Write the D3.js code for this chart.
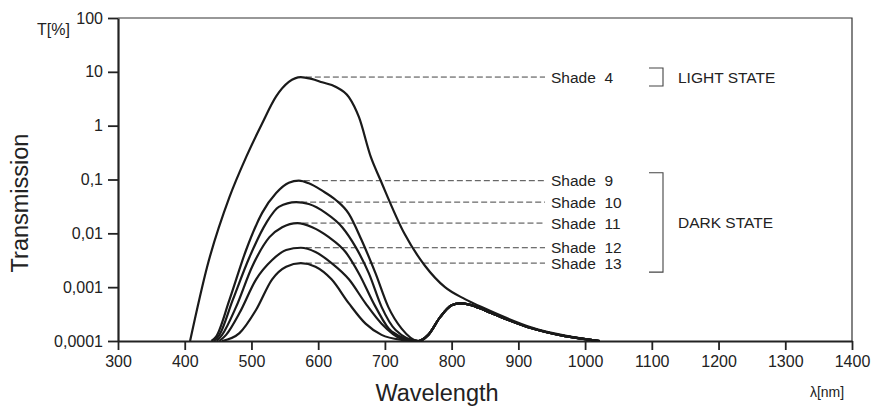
<!DOCTYPE html>
<html>
<head>
<meta charset="utf-8">
<script src="https://cdn.jsdelivr.net/npm/d3@7"></script>
<style>
  body { margin: 0; background: #fff; }
  text { font-family: "Liberation Sans", Arial, sans-serif; fill: #222; }
</style>
</head>
<body>
<script>
// transmission data [wavelength nm, T %]
var shade4 = [[408,0.0001],[434,0.0025],[467,0.047],[492,0.26],[516,1.1],[537,3.5],[556,6.5],[574,8],[590,7.4],[606,6.4],[626,5.3],[646,3.4],[661,1.45],[679,0.26],[693,0.1],[729,0.01],[760,0.0025],[790,0.001],[820,0.0006],[850,0.0004],[880,0.000275],[920,0.000178],[970,0.000126],[1022,0.0001]];
var shade9 = [[440,0.0001],[447,0.00012],[467,0.00058],[492,0.0049],[516,0.024],[537,0.056],[556,0.087],[571,0.095],[586,0.085],[606,0.062],[626,0.042],[646,0.023],[665,0.0075],[686,0.0018],[705,0.00043],[725,0.00017],[750,0.0001]];
var shade10 = [[444,0.0001],[452,0.00013],[472,0.00058],[497,0.0036],[522,0.0155],[541,0.031],[567,0.038],[586,0.035],[611,0.024],[636,0.013],[656,0.0056],[676,0.0018],[695,0.00043],[716,0.00016],[750,0.0001]];
var shade11 = [[448,0.0001],[456,0.00013],[477,0.00043],[501,0.0024],[527,0.0085],[546,0.013],[569,0.0155],[591,0.013],[616,0.0085],[641,0.0045],[661,0.0018],[686,0.00043],[710,0.00015],[750,0.0001]];
var shade12 = [[452,0.0001],[462,0.00013],[482,0.00033],[507,0.0014],[531,0.0032],[552,0.0049],[574,0.0054],[596,0.0045],[620,0.0028],[646,0.0014],[671,0.0005],[695,0.00021],[725,0.00011],[750,0.0001]];
var shade13 = [[456,0.0001],[482,0.00014],[507,0.00038],[531,0.0014],[552,0.0024],[574,0.0028],[596,0.0024],[620,0.0014],[646,0.0005],[671,0.00021],[695,0.00013],[725,0.000105],[750,0.0001]];
// common near-infrared part of the dark shades
var darkTail = [[765,0.00013],[783,0.00028],[800,0.00046],[812,0.0005],[828,0.00047],[850,0.00037],[880,0.00026],[920,0.000172],[970,0.000123],[1022,0.0001]];

var shadeNames = ["Shade  4", "Shade  9", "Shade  10", "Shade  11", "Shade  12", "Shade  13"];
var xTicks = [300, 400, 500, 600, 700, 800, 900, 1000, 1100, 1200, 1300, 1400];
var yTicks = [0.0001, 0.001, 0.01, 0.1, 1, 10, 100];
var yTickLabels = ["0,0001", "0,001", "0,01", "0,1", "1", "10", "100"];

var width = 879, height = 408;

var svg = d3.select("body").append("svg")
    .attr("width", width)
    .attr("height", height);

var x = d3.scaleLinear().domain([300, 1400]).range([118, 852]);
var y = d3.scaleLog().domain([0.0001, 100]).range([341, 18]);

var series = [shade4,
    shade9.concat(darkTail), shade10.concat(darkTail), shade11.concat(darkTail),
    shade12.concat(darkTail), shade13.concat(darkTail)];
var peaks = [shade4, shade9, shade10, shade11, shade12, shade13].map(function(s){
    return s.reduce(function(a, b){ return b[1] > a[1] ? b : a; });
});

//frame top and right
svg.append("path")
    .attr("d", "M" + x(300) + "," + y(100) + "H" + x(1400) + "V" + y(0.0001))
    .attr("fill", "none")
    .attr("stroke", "#333")
    .attr("stroke-width", 1.2);

//axes
var yAxis = svg.append("g")
    .attr("transform", "translate(" + x(300) + ",0)")
    .call(d3.axisLeft(y).tickValues(yTicks)
        .tickFormat(function(d, i){ return yTickLabels[i]; })
        .tickSize(10).tickSizeOuter(0).tickPadding(5));
var xAxis = svg.append("g")
    .attr("transform", "translate(0," + y(0.0001) + ")")
    .call(d3.axisBottom(x).tickValues(xTicks)
        .tickFormat(d3.format("d"))
        .tickSize(9).tickSizeOuter(0).tickPadding(6));
[yAxis, xAxis].forEach(function(g){
    g.select(".domain").attr("stroke", "#222").attr("stroke-width", 2.2);
    g.selectAll(".tick line").attr("stroke", "#222").attr("stroke-width", 1.8);
    g.selectAll(".tick text").attr("fill", "#222")
        .style("font-size", "16px")
        .style("font-family", "'Liberation Sans', Arial, sans-serif");
});

//dashed leader lines and shade labels
svg.selectAll(".leader")
    .data(peaks)
    .enter()
    .append("line")
    .attr("class", "leader")
    .attr("x1", function(d){ return x(d[0]) + 5; })
    .attr("x2", 545)
    .attr("y1", function(d){ return y(d[1]); })
    .attr("y2", function(d){ return y(d[1]); })
    .attr("stroke", "#444")
    .attr("stroke-width", 1)
    .attr("stroke-dasharray", "6,3");

svg.selectAll(".shade")
    .data(peaks)
    .enter()
    .append("text")
    .attr("class", "shade")
    .attr("x", 551)
    .attr("y", function(d){ return y(d[1]) + 5.5; })
    .attr("xml:space", "preserve")
    .style("white-space", "pre")
    .style("font-size", "15.5px")
    .text(function(d, i){ return shadeNames[i]; });

//curves
var line = d3.line()
    .x(function(d){ return x(d[0]); })
    .y(function(d){ return y(d[1]); })
    .curve(d3.curveMonotoneX);

svg.selectAll(".curve")
    .data(series)
    .enter()
    .append("path")
    .attr("class", "curve")
    .attr("d", line)
    .attr("fill", "none")
    .attr("stroke", "#1a1a1a")
    .attr("stroke-width", 2.2)
    .attr("stroke-linejoin", "round");

//state brackets
var lightTop = y(peaks[0][1]) - 9, lightBot = y(peaks[0][1]) + 9;
var darkTop = y(peaks[1][1]) - 8, darkBot = y(peaks[5][1]) + 9;
svg.append("path")
    .attr("d", "M649," + lightTop + "H663V" + lightBot + "H649")
    .attr("fill", "none").attr("stroke", "#444").attr("stroke-width", 1.1);
svg.append("path")
    .attr("d", "M649," + darkTop + "H663V" + darkBot + "H649")
    .attr("fill", "none").attr("stroke", "#444").attr("stroke-width", 1.1);
svg.append("text")
    .attr("x", 678).attr("y", (lightTop + lightBot) / 2 + 5.5)
    .style("font-size", "15.5px")
    .text("LIGHT STATE");
svg.append("text")
    .attr("x", 678).attr("y", (darkTop + darkBot) / 2 + 5.5)
    .style("font-size", "15.5px")
    .text("DARK STATE");

//axis titles
svg.append("text")
    .attr("x", 37).attr("y", 35)
    .style("font-size", "16px")
    .text("T[%]");
svg.append("text")
    .attr("transform", "translate(28,203) rotate(-90)")
    .attr("text-anchor", "middle")
    .style("font-size", "23.5px")
    .text("Transmission");
svg.append("text")
    .attr("x", 437).attr("y", 401)
    .attr("text-anchor", "middle")
    .style("font-size", "23.5px")
    .text("Wavelength");
svg.append("text")
    .attr("x", 827).attr("y", 397)
    .attr("text-anchor", "middle")
    .style("font-size", "14px")
    .text("λ[nm]");
</script>
</body>
</html>
